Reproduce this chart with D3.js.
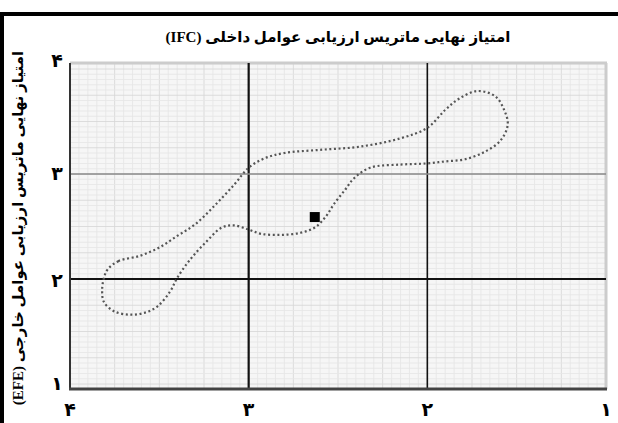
<!DOCTYPE html>
<html><head><meta charset="utf-8">
<script src="https://cdn.jsdelivr.net/npm/d3@7"></script>
<style>body{margin:0;background:#fff}svg{display:block}</style>
</head><body>
<svg id="c" width="618" height="423"></svg>
<script>
const title = "امتیاز نهایی ماتریس ارزیابی عوامل داخلی (IFC)";
const yTitle = "امتیاز نهایی ماتریس ارزیابی عوامل خارجی (EFE)";
const xTicks = [4, 3, 2, 1];
const yTicks = [1, 2, 3, 4];
const tickLabels = {1: "۱", 2: "۲", 3: "۳", 4: "۴"};
// closed dotted region (IFE score, EFE score)
const regionX = [3.79,3.73,3.61,3.50,3.40,3.30,3.19,3.08,3.00,2.91,2.80,2.60,2.38,2.15,2.00,1.90,1.82,1.72,1.62,1.57,1.55,1.59,1.68,1.79,1.90,2.01,2.15,2.32,2.41,2.46,2.52,2.57,2.63,2.71,2.82,2.93,3.00,3.08,3.15,3.24,3.33,3.40,3.44,3.51,3.58,3.66,3.75,3.81,3.82,3.81];
const regionY = [2.09,2.17,2.22,2.30,2.41,2.52,2.70,2.90,3.06,3.15,3.20,3.23,3.26,3.34,3.44,3.61,3.72,3.79,3.74,3.61,3.47,3.32,3.21,3.14,3.12,3.10,3.09,3.06,2.96,2.85,2.72,2.59,2.49,2.44,2.42,2.43,2.47,2.51,2.49,2.35,2.18,2.01,1.88,1.74,1.68,1.66,1.69,1.78,1.90,2.01];
const pointX = [2.63];
const pointY = [2.59];

const svg = d3.select("#c");
const x = d3.scaleLinear().domain([4, 1]).range([70, 606]);
const y = d3.scaleLinear().domain([1, 4]).range([384, 69]);
const plotTop = 63, plotBottom = 389;
const font = "'DejaVu Sans', sans-serif";
const titleFont = "'Liberation Serif', 'DejaVu Sans', serif";

// outer frame
svg.append("rect").attr("x", 2).attr("y", 14).attr("width", 630).attr("height", 430)
  .attr("fill", "none").attr("stroke", "#000").attr("stroke-width", 4);

// plot background
svg.append("rect").attr("x", x(4)).attr("y", plotTop).attr("width", x(1) - x(4)).attr("height", plotBottom - plotTop)
  .attr("fill", "#f6f6f6");

// fine grid
const minorX = d3.range(0, 61).map(i => 1 + i * 0.05);
const minorY = d3.range(-1, 63).map(i => 1 + i * 0.05).filter(v => y(v) >= plotTop && y(v) <= plotBottom);
const g = svg.append("g");
g.selectAll("line.vx").data(minorX).join("line")
  .attr("x1", d => x(d)).attr("x2", d => x(d)).attr("y1", plotTop).attr("y2", plotBottom)
  .attr("stroke", (d, i) => i % 5 === 0 ? "#d4d4d4" : "#e5e5e5").attr("stroke-width", 0.8);
g.selectAll("line.hy").data(minorY).join("line")
  .attr("x1", x(4)).attr("x2", x(1)).attr("y1", d => y(d)).attr("y2", d => y(d))
  .attr("stroke", (d, i) => i % 5 === 0 ? "#d6d6d6" : "#e6e6e6").attr("stroke-width", 0.8);

// top & right light borders
svg.append("line").attr("x1", x(4)).attr("x2", x(1) + 1).attr("y1", plotTop).attr("y2", plotTop)
  .attr("stroke", "#cccccc").attr("stroke-width", 3);
svg.append("line").attr("x1", x(1)).attr("x2", x(1)).attr("y1", plotTop).attr("y2", plotBottom)
  .attr("stroke", "#cccccc").attr("stroke-width", 3);

// main division lines
svg.append("line").attr("x1", x(3)).attr("x2", x(3)).attr("y1", plotTop).attr("y2", plotBottom)
  .attr("stroke", "#111").attr("stroke-width", 2.2);
svg.append("line").attr("x1", x(2)).attr("x2", x(2)).attr("y1", plotTop).attr("y2", plotBottom)
  .attr("stroke", "#111").attr("stroke-width", 1.6);
svg.append("line").attr("x1", x(4)).attr("x2", x(1)).attr("y1", y(3)).attr("y2", y(3))
  .attr("stroke", "#8a8a8a").attr("stroke-width", 1.6);
svg.append("line").attr("x1", x(4)).attr("x2", x(1)).attr("y1", y(2)).attr("y2", y(2))
  .attr("stroke", "#111").attr("stroke-width", 2);

// axes
svg.append("line").attr("x1", x(4)).attr("x2", x(4)).attr("y1", plotTop).attr("y2", plotBottom)
  .attr("stroke", "#333").attr("stroke-width", 2);
svg.append("line").attr("x1", x(4) - 1).attr("x2", x(1) + 1).attr("y1", plotBottom).attr("y2", plotBottom)
  .attr("stroke", "#444").attr("stroke-width", 3);

// dotted region
const pts = regionX.map((v, i) => [v, regionY[i]]);
const line = d3.line().x(d => x(d[0])).y(d => y(d[1])).curve(d3.curveCatmullRomClosed.alpha(0.5));
svg.append("path").attr("d", line(pts)).attr("fill", "none")
  .attr("stroke", "#555").attr("stroke-width", 2.2).attr("stroke-dasharray", "2 2.6");

// point
svg.selectAll("rect.pt").data(pointX.map((v, i) => [v, pointY[i]])).join("rect")
  .attr("x", d => x(d[0]) - 5).attr("y", d => y(d[1]) - 5).attr("width", 10).attr("height", 10)
  .attr("fill", "#000");

// tick labels
svg.selectAll("text.xt").data(xTicks).join("text")
  .attr("x", d => x(d)).attr("y", 416).attr("text-anchor", "middle")
  .attr("font-family", font).attr("font-weight", "bold").attr("font-size", 19)
  .text(d => tickLabels[d]);
const yLabelPos = {1: 383, 2: 280, 3: 173, 4: 60};
svg.selectAll("text.yt").data(yTicks).join("text")
  .attr("x", 57).attr("y", d => y(d) + (yLabelPos[d] - y(d)) + 7).attr("text-anchor", "middle")
  .attr("font-family", font).attr("font-weight", "bold").attr("font-size", 19)
  .text(d => tickLabels[d]);

// titles
svg.append("text").attr("x", 338).attr("y", 42).attr("text-anchor", "middle")
  .attr("font-family", titleFont).attr("font-weight", "bold").attr("font-size", 15)
  .attr("direction", "rtl").attr("unicode-bidi", "embed").text(title);
svg.append("text").attr("transform", "translate(23,228) rotate(-90)").attr("text-anchor", "middle")
  .attr("font-family", titleFont).attr("font-weight", "bold").attr("font-size", 15)
  .attr("direction", "rtl").attr("unicode-bidi", "embed").text(yTitle);
</script>
</body></html>
